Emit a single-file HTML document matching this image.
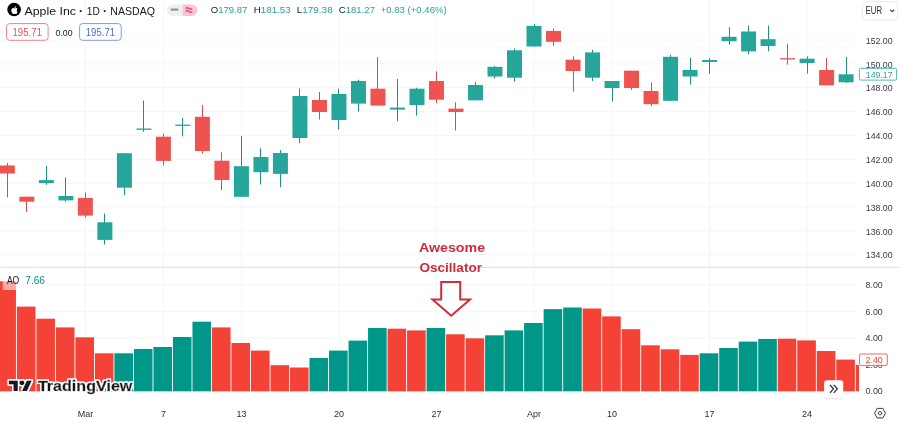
<!DOCTYPE html>
<html lang="en"><head><meta charset="utf-8"><title>Awesome Oscillator</title>
<style>html,body{margin:0;padding:0;background:#fff;overflow:hidden}body{width:900px;height:422px}svg text{white-space:pre}</style></head>
<body>
<svg width="900" height="422" viewBox="0 0 900 422" style="display:block" font-family='"Liberation Sans", Arial, sans-serif'>
<rect width="900" height="422" fill="#fff"/>
<g stroke="#f4f5f8" stroke-width="1" fill="none"><path d="M0 254.7H858"/><path d="M0 230.9H858"/><path d="M0 207.0H858"/><path d="M0 183.2H858"/><path d="M0 159.3H858"/><path d="M0 135.4H858"/><path d="M0 111.6H858"/><path d="M0 87.7H858"/><path d="M0 63.9H858"/><path d="M0 40.0H858"/><path d="M0 391.2H858"/><path d="M0 364.6H858"/><path d="M0 338.0H858"/><path d="M0 311.4H858"/><path d="M0 284.8H858"/><path d="M85.4 0V392"/><path d="M163.4 0V392"/><path d="M241.4 0V392"/><path d="M339.0 0V392"/><path d="M436.5 0V392"/><path d="M534.0 0V392"/><path d="M612.0 0V392"/><path d="M709.6 0V392"/><path d="M807.1 0V392"/></g>
<path d="M0 267.3H900" stroke="#dcdee3" stroke-width="1"/>
<rect x="7" y="163.0" width="1" height="34.4" fill="#dc4a46"/>
<rect x="-0.15" y="165.5" width="15" height="8.0" fill="#ef5350"/>
<rect x="26" y="196.7" width="1" height="15.3" fill="#dc4a46"/>
<rect x="19.36" y="196.7" width="15" height="5.0" fill="#ef5350"/>
<rect x="46" y="165.8" width="1" height="19.0" fill="#1f9085"/>
<rect x="38.86" y="180.1" width="15" height="3.0" fill="#26a69a"/>
<rect x="65" y="177.5" width="1" height="24.2" fill="#1f9085"/>
<rect x="58.37" y="196.0" width="15" height="4.4" fill="#26a69a"/>
<rect x="85" y="192.4" width="1" height="25.2" fill="#dc4a46"/>
<rect x="77.87" y="198.0" width="15" height="17.6" fill="#ef5350"/>
<rect x="104" y="213.6" width="1" height="30.9" fill="#1f9085"/>
<rect x="97.38" y="222.3" width="15" height="17.6" fill="#26a69a"/>
<rect x="124" y="153.2" width="1" height="41.8" fill="#1f9085"/>
<rect x="116.89" y="153.2" width="15" height="34.5" fill="#26a69a"/>
<rect x="143" y="100.5" width="1" height="31.2" fill="#1f9085"/>
<rect x="136.39" y="128.5" width="15" height="1.3" fill="#26a69a"/>
<rect x="163" y="133.5" width="1" height="32.0" fill="#dc4a46"/>
<rect x="155.90" y="136.7" width="15" height="24.2" fill="#ef5350"/>
<rect x="182" y="117.8" width="1" height="18.6" fill="#1f9085"/>
<rect x="175.40" y="124.6" width="15" height="1.3" fill="#26a69a"/>
<rect x="202" y="105.2" width="1" height="48.4" fill="#dc4a46"/>
<rect x="194.91" y="116.8" width="15" height="34.2" fill="#ef5350"/>
<rect x="221" y="152.3" width="1" height="37.7" fill="#dc4a46"/>
<rect x="214.42" y="160.7" width="15" height="19.3" fill="#ef5350"/>
<rect x="241" y="136.0" width="1" height="60.8" fill="#1f9085"/>
<rect x="233.92" y="166.2" width="15" height="30.6" fill="#26a69a"/>
<rect x="260" y="148.3" width="1" height="36.2" fill="#1f9085"/>
<rect x="253.43" y="157.0" width="15" height="15.2" fill="#26a69a"/>
<rect x="280" y="150.0" width="1" height="37.2" fill="#1f9085"/>
<rect x="272.93" y="153.0" width="15" height="20.9" fill="#26a69a"/>
<rect x="299" y="88.5" width="1" height="54.5" fill="#1f9085"/>
<rect x="292.44" y="96.0" width="15" height="42.0" fill="#26a69a"/>
<rect x="319" y="92.0" width="1" height="27.5" fill="#dc4a46"/>
<rect x="311.95" y="100.0" width="15" height="12.0" fill="#ef5350"/>
<rect x="338" y="88.7" width="1" height="40.8" fill="#1f9085"/>
<rect x="331.45" y="94.0" width="15" height="26.0" fill="#26a69a"/>
<rect x="358" y="79.7" width="1" height="31.9" fill="#1f9085"/>
<rect x="350.96" y="81.0" width="15" height="22.6" fill="#26a69a"/>
<rect x="377" y="57.2" width="1" height="48.4" fill="#dc4a46"/>
<rect x="370.46" y="88.7" width="15" height="16.9" fill="#ef5350"/>
<rect x="397" y="79.0" width="1" height="42.2" fill="#1f9085"/>
<rect x="389.97" y="107.6" width="15" height="2.0" fill="#26a69a"/>
<rect x="416" y="87.7" width="1" height="27.9" fill="#1f9085"/>
<rect x="409.48" y="88.7" width="15" height="16.3" fill="#26a69a"/>
<rect x="436" y="71.4" width="1" height="31.6" fill="#dc4a46"/>
<rect x="428.98" y="81.0" width="15" height="18.7" fill="#ef5350"/>
<rect x="455" y="102.3" width="1" height="28.2" fill="#dc4a46"/>
<rect x="448.49" y="108.6" width="15" height="3.4" fill="#ef5350"/>
<rect x="475" y="82.0" width="1" height="18.3" fill="#1f9085"/>
<rect x="467.99" y="85.0" width="15" height="15.3" fill="#26a69a"/>
<rect x="494" y="65.8" width="1" height="12.6" fill="#1f9085"/>
<rect x="487.50" y="66.8" width="15" height="9.7" fill="#26a69a"/>
<rect x="514" y="48.5" width="1" height="33.1" fill="#1f9085"/>
<rect x="507.01" y="50.3" width="15" height="27.4" fill="#26a69a"/>
<rect x="534" y="23.9" width="1" height="22.6" fill="#1f9085"/>
<rect x="526.51" y="25.9" width="15" height="20.6" fill="#26a69a"/>
<rect x="553" y="28.5" width="1" height="17.3" fill="#dc4a46"/>
<rect x="546.02" y="30.9" width="15" height="10.9" fill="#ef5350"/>
<rect x="573" y="56.4" width="1" height="35.2" fill="#dc4a46"/>
<rect x="565.52" y="59.7" width="15" height="11.3" fill="#ef5350"/>
<rect x="592" y="49.8" width="1" height="31.2" fill="#1f9085"/>
<rect x="585.03" y="52.4" width="15" height="25.3" fill="#26a69a"/>
<rect x="612" y="81.0" width="1" height="20.6" fill="#1f9085"/>
<rect x="604.54" y="81.0" width="15" height="7.0" fill="#26a69a"/>
<rect x="631" y="70.7" width="1" height="19.3" fill="#dc4a46"/>
<rect x="624.04" y="70.7" width="15" height="17.3" fill="#ef5350"/>
<rect x="651" y="82.3" width="1" height="23.9" fill="#dc4a46"/>
<rect x="643.55" y="91.0" width="15" height="13.2" fill="#ef5350"/>
<rect x="670" y="54.8" width="1" height="46.0" fill="#1f9085"/>
<rect x="663.05" y="56.8" width="15" height="44.0" fill="#26a69a"/>
<rect x="690" y="57.7" width="1" height="26.9" fill="#1f9085"/>
<rect x="682.56" y="70.0" width="15" height="6.5" fill="#26a69a"/>
<rect x="709" y="58.0" width="1" height="15.7" fill="#1f9085"/>
<rect x="702.07" y="60.0" width="15" height="2.0" fill="#26a69a"/>
<rect x="729" y="27.2" width="1" height="17.6" fill="#1f9085"/>
<rect x="721.57" y="36.8" width="15" height="4.4" fill="#26a69a"/>
<rect x="748" y="25.6" width="1" height="28.7" fill="#1f9085"/>
<rect x="741.08" y="31.5" width="15" height="19.9" fill="#26a69a"/>
<rect x="768" y="25.6" width="1" height="25.7" fill="#1f9085"/>
<rect x="760.58" y="39.2" width="15" height="6.8" fill="#26a69a"/>
<rect x="787" y="43.8" width="1" height="20.9" fill="#dc4a46"/>
<rect x="780.09" y="58.2" width="15" height="1.3" fill="#ef5350"/>
<rect x="807" y="56.4" width="1" height="17.3" fill="#1f9085"/>
<rect x="799.60" y="58.7" width="15" height="4.3" fill="#26a69a"/>
<rect x="826" y="58.0" width="1" height="27.3" fill="#dc4a46"/>
<rect x="819.10" y="70.0" width="15" height="15.3" fill="#ef5350"/>
<rect x="846" y="57.0" width="1" height="26.0" fill="#1f9085"/>
<rect x="838.61" y="74.3" width="15" height="8.0" fill="#26a69a"/>
<rect x="-2.65" y="281.3" width="18.60" height="110.0" fill="#f44336"/>
<rect x="16.86" y="306.6" width="18.60" height="84.7" fill="#f44336"/>
<rect x="36.37" y="318.7" width="18.60" height="72.6" fill="#f44336"/>
<rect x="55.88" y="327.4" width="18.60" height="63.9" fill="#f44336"/>
<rect x="75.39" y="337.3" width="18.60" height="54.0" fill="#f44336"/>
<rect x="94.90" y="353.3" width="18.60" height="38.0" fill="#f44336"/>
<rect x="114.41" y="353.3" width="18.60" height="38.0" fill="#009688"/>
<rect x="133.92" y="349.0" width="18.60" height="42.3" fill="#009688"/>
<rect x="153.43" y="347.0" width="18.60" height="44.3" fill="#009688"/>
<rect x="172.94" y="337.0" width="18.60" height="54.3" fill="#009688"/>
<rect x="192.45" y="321.7" width="18.60" height="69.6" fill="#009688"/>
<rect x="211.96" y="327.4" width="18.60" height="63.9" fill="#f44336"/>
<rect x="231.47" y="343.0" width="18.60" height="48.3" fill="#f44336"/>
<rect x="250.98" y="350.6" width="18.60" height="40.7" fill="#f44336"/>
<rect x="270.49" y="365.2" width="18.60" height="26.1" fill="#f44336"/>
<rect x="290.00" y="367.5" width="18.60" height="23.8" fill="#f44336"/>
<rect x="309.51" y="357.9" width="18.60" height="33.4" fill="#009688"/>
<rect x="329.02" y="350.6" width="18.60" height="40.7" fill="#009688"/>
<rect x="348.53" y="340.6" width="18.60" height="50.7" fill="#009688"/>
<rect x="368.04" y="328.0" width="18.60" height="63.3" fill="#009688"/>
<rect x="387.55" y="328.7" width="18.60" height="62.6" fill="#f44336"/>
<rect x="407.06" y="330.4" width="18.60" height="60.9" fill="#f44336"/>
<rect x="426.57" y="328.0" width="18.60" height="63.3" fill="#009688"/>
<rect x="446.08" y="334.3" width="18.60" height="57.0" fill="#f44336"/>
<rect x="465.59" y="338.3" width="18.60" height="53.0" fill="#f44336"/>
<rect x="485.10" y="335.3" width="18.60" height="56.0" fill="#009688"/>
<rect x="504.61" y="330.4" width="18.60" height="60.9" fill="#009688"/>
<rect x="524.12" y="323.0" width="18.60" height="68.3" fill="#009688"/>
<rect x="543.63" y="309.1" width="18.60" height="82.2" fill="#009688"/>
<rect x="563.14" y="307.5" width="18.60" height="83.8" fill="#009688"/>
<rect x="582.65" y="308.5" width="18.60" height="82.8" fill="#f44336"/>
<rect x="602.16" y="316.4" width="18.60" height="74.9" fill="#f44336"/>
<rect x="621.67" y="329.2" width="18.60" height="62.1" fill="#f44336"/>
<rect x="641.18" y="345.3" width="18.60" height="46.0" fill="#f44336"/>
<rect x="660.69" y="349.3" width="18.60" height="42.0" fill="#f44336"/>
<rect x="680.20" y="354.9" width="18.60" height="36.4" fill="#f44336"/>
<rect x="699.71" y="353.3" width="18.60" height="38.0" fill="#009688"/>
<rect x="719.22" y="348.0" width="18.60" height="43.3" fill="#009688"/>
<rect x="738.73" y="341.6" width="18.60" height="49.7" fill="#009688"/>
<rect x="758.24" y="339.0" width="18.60" height="52.3" fill="#009688"/>
<rect x="777.75" y="338.7" width="18.60" height="52.6" fill="#f44336"/>
<rect x="797.26" y="340.4" width="18.60" height="50.9" fill="#f44336"/>
<rect x="816.77" y="351.0" width="18.60" height="40.3" fill="#f44336"/>
<rect x="836.28" y="359.6" width="18.60" height="31.7" fill="#f44336"/>
<rect x="855.79" y="364.9" width="3.21" height="26.4" fill="#f44336"/>
<text x="418.9" y="251.6" font-size="13.6" fill="#d02c3a" textLength="66.2" lengthAdjust="spacingAndGlyphs" font-weight="bold">Awesome</text>
<text x="419.4" y="271.5" font-size="13.6" fill="#d02c3a" textLength="62.6" lengthAdjust="spacingAndGlyphs" font-weight="bold">Oscillator</text>
<path d="M441.2 282.1H460.2V299.5H470L451.2 315.7L432.5 299.5H441.2Z" fill="#fff" stroke="#d02c3a" stroke-width="2" stroke-linejoin="miter"/>
<rect x="2.7" y="272" width="46" height="18" fill="#fff" fill-opacity="0.55"/>
<text x="6.9" y="283.6" font-size="10" fill="#131722" textLength="12.4" lengthAdjust="spacingAndGlyphs">AO</text>
<text x="25.3" y="283.6" font-size="10" fill="#009688" textLength="19.7" lengthAdjust="spacingAndGlyphs">7.66</text>
<circle cx="14.1" cy="9.5" r="6.8" fill="#000"/>
<g transform="translate(14.1 9.7) scale(0.47)" fill="#fff"><path d="M5.6 1.6C5.6 -0.6 7.4 -1.7 7.5 -1.8C6.5 -3.3 4.9 -3.5 4.3 -3.5C3 -3.6 1.7 -2.7 1 -2.7C0.3 -2.7 -0.7 -3.5 -1.8 -3.5C-3.2 -3.5 -4.5 -2.7 -5.2 -1.4C-6.7 1.2 -5.6 5 -4.1 7.1C-3.4 8.1 -2.6 9.3 -1.5 9.2C-0.4 9.2 0 8.6 1.2 8.6C2.5 8.6 2.8 9.2 3.9 9.2C5 9.2 5.8 8.2 6.5 7.1C7.3 5.9 7.6 4.8 7.6 4.7C7.6 4.7 5.6 3.9 5.6 1.6Z"/><path d="M3.5 -4.9C4.1 -5.6 4.5 -6.6 4.4 -7.6C3.5 -7.6 2.5 -7 1.9 -6.3C1.3 -5.7 0.8 -4.7 1 -3.7C1.9 -3.6 2.9 -4.2 3.5 -4.9Z"/></g>
<text x="24.5" y="14.5" font-size="11.5" fill="#131722" textLength="51.5" lengthAdjust="spacingAndGlyphs">Apple Inc</text>
<text x="81.0" y="14.5" font-size="12" fill="#131722" font-weight="bold" text-anchor="middle">·</text>
<text x="86.8" y="14.5" font-size="11.5" fill="#131722" textLength="13.0" lengthAdjust="spacingAndGlyphs">1D</text>
<text x="104.9" y="14.5" font-size="12" fill="#131722" font-weight="bold" text-anchor="middle">·</text>
<text x="110.3" y="14.5" font-size="11.5" fill="#131722" textLength="44.7" lengthAdjust="spacingAndGlyphs">NASDAQ</text>
<path d="M172.75 4.5H182.5V16H172.75A5.75 5.75 0 0 1 172.75 4.5Z" fill="#eceef2"/>
<path d="M182.5 4.5H191.75A5.75 5.75 0 0 1 191.75 16H182.5Z" fill="#f9c4d4"/>
<path d="M170.8 9.6H178.3" stroke="#8a8d97" stroke-width="2"/>
<path d="M185.8 8.6q1.6 -1.5 3.2 0t3.2 0M185.8 11.6q1.6 -1.5 3.2 0t3.2 0" stroke="#e2487e" stroke-width="1.4" fill="none"/>
<text x="210.7" y="13.4" font-size="9.7" textLength="36.6" lengthAdjust="spacingAndGlyphs" fill="#131722">O<tspan fill="#2aa294">179.87</tspan></text>
<text x="253.7" y="13.4" font-size="9.7" textLength="37.0" lengthAdjust="spacingAndGlyphs" fill="#131722">H<tspan fill="#2aa294">181.53</tspan></text>
<text x="296.7" y="13.4" font-size="9.7" textLength="36.0" lengthAdjust="spacingAndGlyphs" fill="#131722">L<tspan fill="#2aa294">179.38</tspan></text>
<text x="338.7" y="13.4" font-size="9.7" textLength="36.3" lengthAdjust="spacingAndGlyphs" fill="#131722">C<tspan fill="#2aa294">181.27</tspan></text>
<text x="380.7" y="13.4" font-size="9.7" fill="#2aa294" textLength="66.0" lengthAdjust="spacingAndGlyphs">+0.83 (+0.46%)</text>
<rect x="6.6" y="23.6" width="41.5" height="16.7" rx="3" fill="#fff" stroke="#f0838b" stroke-width="1"/>
<text x="12.5" y="35.9" font-size="11" fill="#e8505a" textLength="29.5" lengthAdjust="spacingAndGlyphs">195.71</text>
<text x="55.5" y="35.6" font-size="9" fill="#131722" textLength="17.0" lengthAdjust="spacingAndGlyphs">0.00</text>
<rect x="79.6" y="23.6" width="41.6" height="16.7" rx="3" fill="#fff" stroke="#8099e4" stroke-width="1"/>
<text x="85.8" y="35.9" font-size="11" fill="#4a6cd8" textLength="29.3" lengthAdjust="spacingAndGlyphs">195.71</text>
<text x="865.8" y="258.3" font-size="9.2" fill="#363a45" textLength="26.8" lengthAdjust="spacingAndGlyphs">134.00</text>
<text x="865.8" y="234.5" font-size="9.2" fill="#363a45" textLength="26.8" lengthAdjust="spacingAndGlyphs">136.00</text>
<text x="865.8" y="210.6" font-size="9.2" fill="#363a45" textLength="26.8" lengthAdjust="spacingAndGlyphs">138.00</text>
<text x="865.8" y="186.8" font-size="9.2" fill="#363a45" textLength="26.8" lengthAdjust="spacingAndGlyphs">140.00</text>
<text x="865.8" y="162.9" font-size="9.2" fill="#363a45" textLength="26.8" lengthAdjust="spacingAndGlyphs">142.00</text>
<text x="865.8" y="139.0" font-size="9.2" fill="#363a45" textLength="26.8" lengthAdjust="spacingAndGlyphs">144.00</text>
<text x="865.8" y="115.2" font-size="9.2" fill="#363a45" textLength="26.8" lengthAdjust="spacingAndGlyphs">146.00</text>
<text x="865.8" y="91.3" font-size="9.2" fill="#363a45" textLength="26.8" lengthAdjust="spacingAndGlyphs">148.00</text>
<text x="865.8" y="67.5" font-size="9.2" fill="#363a45" textLength="26.8" lengthAdjust="spacingAndGlyphs">150.00</text>
<text x="865.8" y="43.6" font-size="9.2" fill="#363a45" textLength="26.8" lengthAdjust="spacingAndGlyphs">152.00</text>
<text x="865.6" y="394.4" font-size="9.2" fill="#363a45" textLength="17.2" lengthAdjust="spacingAndGlyphs">0.00</text>
<text x="865.6" y="367.8" font-size="9.2" fill="#363a45" textLength="17.2" lengthAdjust="spacingAndGlyphs">2.00</text>
<text x="865.6" y="341.2" font-size="9.2" fill="#363a45" textLength="17.2" lengthAdjust="spacingAndGlyphs">4.00</text>
<text x="865.6" y="314.6" font-size="9.2" fill="#363a45" textLength="17.2" lengthAdjust="spacingAndGlyphs">6.00</text>
<text x="865.6" y="288.0" font-size="9.2" fill="#363a45" textLength="17.2" lengthAdjust="spacingAndGlyphs">8.00</text>
<rect x="859.4" y="68.3" width="37.2" height="11.8" rx="1.2" fill="#fff" stroke="#3fb0a4" stroke-width="0.9"/>
<text x="865.8" y="78.0" font-size="9.2" fill="#26a69a" textLength="26.8" lengthAdjust="spacingAndGlyphs">149.17</text>
<rect x="859.5" y="354" width="27.8" height="11.4" rx="1.2" fill="#fff" fill-opacity="0.85" stroke="#f5574c" stroke-width="0.9"/>
<text x="865.6" y="363.3" font-size="9.2" fill="#f44336" textLength="17.2" lengthAdjust="spacingAndGlyphs">2.40</text>
<rect x="862.3" y="1.7" width="35.2" height="18.5" rx="3" fill="#fff" stroke="#e9ebf0" stroke-width="1"/>
<text x="865.6" y="14.0" font-size="10" fill="#2a2e39" textLength="16.4" lengthAdjust="spacingAndGlyphs">EUR</text>
<path d="M890.3 9.8l2 1.9l2 -1.9" stroke="#454954" stroke-width="1.3" fill="none"/>
<text x="85.4" y="416.8" font-size="9" fill="#2a2e39" text-anchor="middle">Mar</text>
<text x="163.4" y="416.8" font-size="9" fill="#2a2e39" text-anchor="middle">7</text>
<text x="241.4" y="416.8" font-size="9" fill="#2a2e39" text-anchor="middle">13</text>
<text x="339.0" y="416.8" font-size="9" fill="#2a2e39" text-anchor="middle">20</text>
<text x="436.5" y="416.8" font-size="9" fill="#2a2e39" text-anchor="middle">27</text>
<text x="534.0" y="416.8" font-size="9" fill="#2a2e39" text-anchor="middle">Apr</text>
<text x="612.0" y="416.8" font-size="9" fill="#2a2e39" text-anchor="middle">10</text>
<text x="709.6" y="416.8" font-size="9" fill="#2a2e39" text-anchor="middle">17</text>
<text x="807.1" y="416.8" font-size="9" fill="#2a2e39" text-anchor="middle">24</text>
<rect x="824.1" y="381" width="19.2" height="18.4" rx="3.2" fill="#000" fill-opacity="0.07"/><rect x="823.6" y="380.4" width="20.2" height="18.6" rx="3.4" fill="#000" fill-opacity="0.04"/>
<rect x="824.1" y="380.2" width="19.2" height="18" rx="3" fill="#fff"/>
<path d="M830 384.8l3.5 4l-3.5 4M833.8 384.8l3.5 4l-3.5 4" stroke="#2a2e39" stroke-width="1.25" fill="none"/>
<polygon points="885.5,413.2 882.8,418.0 877.2,418.0 874.5,413.2 877.2,408.4 882.8,408.4" fill="none" stroke="#2a2e39" stroke-width="0.95"/>
<circle cx="880" cy="413.2" r="1.7" fill="none" stroke="#2a2e39" stroke-width="0.9"/>
<defs><filter id="ol" x="-5%" y="-40%" width="110%" height="180%"><feMorphology in="SourceAlpha" operator="dilate" radius="1.2" result="d"/><feGaussianBlur in="d" stdDeviation="0.35" result="b"/><feComponentTransfer in="b" result="a"><feFuncA type="linear" slope="3" intercept="0"/></feComponentTransfer><feFlood flood-color="#fff"/><feComposite in2="a" operator="in" result="w"/><feMerge><feMergeNode in="w"/><feMergeNode in="SourceGraphic"/></feMerge></filter></defs>
<g filter="url(#ol)" fill="#131722">
<g transform="translate(8.75 378.2) scale(0.655 0.58)"><path d="M14 22H7V11H0V4h14v18z"/><circle cx="20" cy="8" r="4"/><path d="M28 22h-8l7.5-18h8L28 22z"/></g>
<text x="37.9" y="391" font-size="15" font-weight="bold" textLength="94.5" lengthAdjust="spacingAndGlyphs" stroke="#131722" stroke-width="0.45">TradingView</text>
</g>
</svg>
</body></html>
